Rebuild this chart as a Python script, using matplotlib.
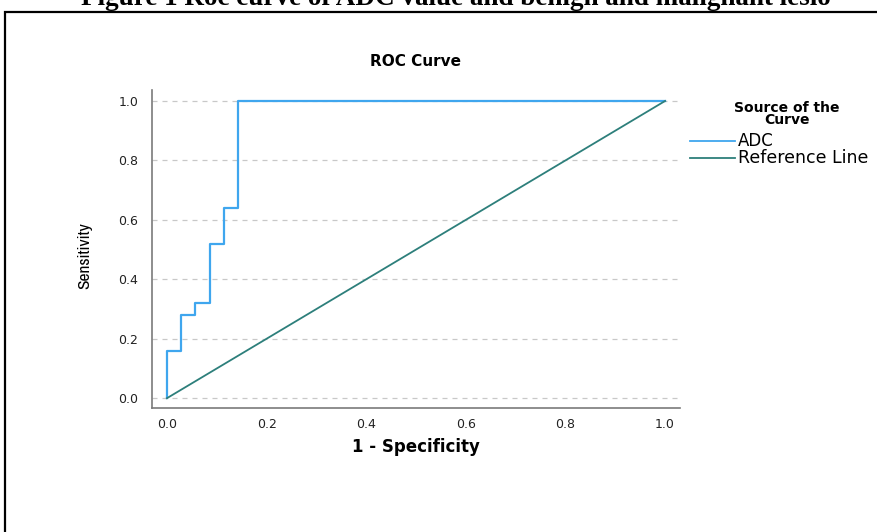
import matplotlib.pyplot as plt
from matplotlib.patches import Rectangle
from matplotlib.lines import Line2D

# ROC coordinates (1 - specificity, sensitivity) for ADC
fpr = [0.0, 0.0, 1/35, 1/35, 2/35, 2/35, 3/35, 3/35, 4/35, 4/35, 5/35, 5/35, 1.0]
tpr = [0.0, 0.16, 0.16, 0.28, 0.28, 0.32, 0.32, 0.52, 0.52, 0.64, 0.64, 1.0, 1.0]
ref_x = [0.0, 1.0]
ref_y = [0.0, 1.0]
ticks = [0.0, 0.2, 0.4, 0.6, 0.8, 1.0]
tick_labels = ['0.0', '0.2', '0.4', '0.6', '0.8', '1.0']

W, H = 878, 532
adc_color = '#3fa6ee'
ref_color = '#2d7f7b'
spine_color = '#7a7a7a'

fig = plt.figure(figsize=(W / 100, H / 100), dpi=100)

# caption (clipped at top of the image)
fig.text(456 / W, 1 - 5 / H, 'Figure 1 Roc curve of ADC value and benign and malignant lesio',
         ha='center', va='baseline', fontsize=19.5, fontweight='bold',
         family='Liberation Serif')

# frame around the chart
fig.patches.append(Rectangle((5 / W, -0.1), 1.0, 1 - 12 / H + 0.1,
                             transform=fig.transFigure, fill=False,
                             edgecolor='black', linewidth=1.6))

ax = fig.add_axes([152 / W, (H - 408) / H, (680 - 152) / W, (408 - 90) / H])
ax.plot(fpr, tpr, color=adc_color, linewidth=1.6)
ax.plot(ref_x, ref_y, color=ref_color, linewidth=1.3)
ax.set_xlim(-0.03, 1.03)
ax.set_ylim(-0.033, 1.037)

ax.set_xticks(ticks)
ax.set_xticklabels(tick_labels)
ax.set_yticks(ticks)
ax.set_yticklabels(tick_labels)
ax.tick_params(labelsize=9, length=0, colors='#222222')
ax.tick_params(axis='y', pad=10)
ax.tick_params(axis='x', pad=7)
for lab in ax.get_xticklabels() + ax.get_yticklabels():
    lab.set_family('DejaVu Sans')

ax.yaxis.grid(True, linestyle=(0, (4, 4)), color='#c8c8c8', linewidth=0.9)
ax.set_axisbelow(True)
for s in ['top', 'right']:
    ax.spines[s].set_visible(False)
for s in ['left', 'bottom']:
    ax.spines[s].set_color(spine_color)
    ax.spines[s].set_linewidth(1.2)

fig.text(416 / W, 1 - 61 / H, 'ROC Curve', ha='center', va='center',
         fontsize=11, fontweight='bold', family='DejaVu Sans')
fig.text(416 / W, 1 - 447 / H, '1 - Specificity', ha='center', va='center',
         fontsize=12, fontweight='bold', family='DejaVu Sans')
fig.text(85 / W, 1 - 256 / H, 'Sensitivity', ha='center', va='center',
         rotation=90, fontsize=12.5, fontweight='bold',
         family=['Liberation Sans Narrow', 'Archivo Narrow', 'DejaVu Sans'])

# legend drawn by hand so that it can run off the right edge
fig.text(787 / W, 1 - 114 / H, 'Source of the\nCurve', ha='center', va='center',
         fontsize=10, fontweight='bold', family='DejaVu Sans', linespacing=0.85)
fig.lines.append(Line2D([690 / W, 735 / W], [1 - 141 / H] * 2, transform=fig.transFigure,
                        color=adc_color, linewidth=1.3))
fig.lines.append(Line2D([690 / W, 735 / W], [1 - 158 / H] * 2, transform=fig.transFigure,
                        color=ref_color, linewidth=1.3))
fig.text(738 / W, 1 - 141 / H, 'ADC', ha='left', va='center', fontsize=12,
         family='DejaVu Sans')
fig.text(738 / W, 1 - 158 / H, 'Reference Line', ha='left', va='center', fontsize=12.5,
         family='DejaVu Sans')

fig.savefig('out.png', dpi=100)
